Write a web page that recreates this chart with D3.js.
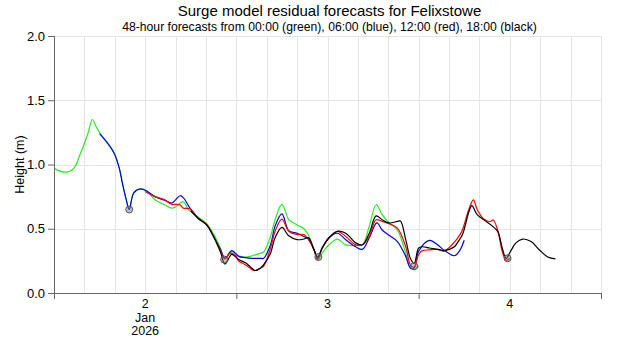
<!DOCTYPE html>
<html>
<head>
<meta charset="utf-8">
<script src="https://cdn.jsdelivr.net/npm/d3@7"></script>
<style>
  html, body { margin: 0; padding: 0; background: #fff; }
  svg { display: block; font-family: "Liberation Sans", Arial, sans-serif; }
</style>
</head>
<body>
<svg id="chart" width="620" height="350"></svg>
<script>
// ---- data: [hours after 2026-01-02 00:00, surge residual (m)] ----
const green = [
  [0,0.97],[1.5,0.94],[2.6,0.97],[3.5,1.09],[4.4,1.23],[5.05,1.35],[5.5,1.30],[6.2,1.23],
  [7.0,1.17],[7.9,1.09],[8.6,0.97],[9.0,0.855],[9.45,0.74],[9.9,0.65],[10.5,0.78],[11.4,0.81],
  [12.3,0.79],[13.3,0.725],[14.6,0.685],[15.5,0.66],[16.0,0.67],[16.6,0.70],[17.05,0.71],[17.7,0.65],
  [19.0,0.59],[20.1,0.54],[21.0,0.46],[21.9,0.35],[22.5,0.27],[23.4,0.32],[24.3,0.29],[25.2,0.28],
  [26.1,0.29],[27.2,0.31],[27.6,0.32],[28.5,0.44],[29.1,0.57],[30.0,0.69],[30.9,0.57],[31.3,0.555],
  [32.0,0.53],[32.9,0.50],[33.5,0.45],[34.2,0.34],[34.7,0.26],[35.3,0.31],[36.2,0.375],[37.3,0.42],
  [38.4,0.375],[39.7,0.37],[40.6,0.375],[41.5,0.52],[42.4,0.687],[43.2,0.61],[44.1,0.545],[45.2,0.49],
  [46.3,0.31],[46.9,0.195],[47.4,0.18],[48.0,0.21]
];
const blue = [
  [6.0,1.24],[7.0,1.17],[7.9,1.09],[8.6,0.97],[9.0,0.855],[9.45,0.74],[9.9,0.65],[10.5,0.78],
  [11.4,0.81],[12.3,0.79],[13.3,0.75],[14.6,0.72],[15.5,0.70],[16.0,0.725],[16.6,0.757],[17.05,0.74],
  [17.9,0.66],[19.0,0.58],[20.1,0.53],[21.0,0.44],[21.9,0.34],[22.5,0.27],[23.4,0.33],[24.3,0.285],
  [25.2,0.275],[26.1,0.27],[27.2,0.27],[27.6,0.27],[28.5,0.375],[29.1,0.52],[30.0,0.615],[30.9,0.485],
  [32.0,0.465],[32.9,0.44],[33.5,0.42],[34.2,0.34],[34.7,0.27],[35.3,0.35],[36.2,0.43],[37.3,0.465],
  [38.4,0.415],[39.7,0.36],[40.6,0.34],[41.5,0.43],[42.5,0.545],[43.2,0.49],[44.1,0.45],[45.2,0.40],
  [46.3,0.285],[46.9,0.195],[47.4,0.195],[48.0,0.325],[49.4,0.41],[50.5,0.375],[51.3,0.335],[52.7,0.29],
  [53.4,0.33],[54.0,0.41]
];
const red = [
  [12.0,0.79],[13.3,0.75],[14.6,0.725],[15.5,0.69],[16.0,0.69],[16.6,0.685],[17.05,0.66],[17.9,0.655],
  [19.0,0.58],[20.1,0.53],[21.0,0.44],[21.9,0.33],[22.5,0.265],[23.2,0.31],[23.9,0.29],[24.3,0.25],
  [25.2,0.22],[26.1,0.18],[26.5,0.175],[27.2,0.195],[27.6,0.21],[28.5,0.35],[29.1,0.48],[30.0,0.575],
  [30.9,0.48],[32.0,0.455],[32.9,0.455],[33.5,0.415],[34.2,0.34],[34.7,0.26],[35.3,0.35],[36.2,0.43],
  [37.3,0.48],[38.4,0.44],[39.7,0.375],[40.6,0.375],[41.5,0.44],[42.4,0.57],[43.2,0.557],[44.1,0.54],
  [45.2,0.505],[46.3,0.36],[46.9,0.22],[47.4,0.20],[48.0,0.30],[48.5,0.33],[49.4,0.335],[50.5,0.34],
  [51.3,0.325],[52.3,0.37],[53.6,0.47],[54.6,0.65],[55.2,0.725],[55.7,0.65],[56.6,0.575],[57.5,0.557],
  [57.8,0.57],[58.4,0.49],[59.0,0.325],[59.5,0.255],[60.0,0.27]
];
const black = [
  [18.0,0.64],[19.0,0.58],[20.1,0.53],[21.0,0.44],[21.9,0.32],[22.5,0.225],[23.4,0.30],[24.3,0.26],
  [25.2,0.235],[26.1,0.19],[26.5,0.175],[27.2,0.195],[27.6,0.22],[28.5,0.31],[29.1,0.43],[30.0,0.51],
  [30.9,0.445],[32.0,0.415],[32.9,0.42],[33.5,0.43],[34.2,0.34],[34.7,0.28],[35.3,0.35],[36.2,0.43],
  [37.3,0.48],[38.4,0.465],[39.7,0.39],[40.6,0.375],[41.5,0.465],[42.4,0.60],[43.2,0.57],[44.1,0.545],
  [45.2,0.557],[45.6,0.56],[46.3,0.415],[46.9,0.27],[47.4,0.23],[48.0,0.35],[48.5,0.36],[49.4,0.35],
  [50.5,0.34],[51.3,0.33],[52.7,0.36],[53.2,0.40],[53.8,0.46],[54.6,0.63],[55.0,0.68],[55.7,0.61],
  [56.6,0.57],[57.5,0.53],[58.4,0.48],[59.0,0.35],[59.5,0.27],[60.1,0.325],[60.8,0.39],[61.7,0.42],
  [62.8,0.40],[63.9,0.335],[65.0,0.28],[66.0,0.265]
];
// low-water markers
const markers = [[9.9,0.65],[22.4,0.26],[34.8,0.28],[47.4,0.21],[59.7,0.27]];

const seriesNames = ["green","blue","red","black"];
const seriesColors = ["#22ee22","#0000dd","#ff0000","#000000"];
const yTicks = [0, 0.5, 1.0, 1.5, 2.0];
const dayLabels = [["2","Jan","2026"],["3"],["4"]];
const title = "Surge model residual forecasts for Felixstowe";
const subtitle = "48-hour forecasts from 00:00 (green), 06:00 (blue), 12:00 (red), 18:00 (black)";
const yLabel = "Height (m)";

// ---- layout ----
const W = 620, H = 350;
const m = {left: 54, right: 19, top: 36, bottom: 57};
const start = new Date(2026, 0, 2, 0, 0);
const end = new Date(2026, 0, 5, 0, 0);
const T = h => new Date(start.getTime() + h * 3600000);

const x = d3.scaleTime().domain([start, end]).range([m.left, W - m.right]);
const y = d3.scaleLinear().domain([0, 2]).range([H - m.bottom, m.top]);

const svg = d3.select("#chart");

// grid
const grid = svg.append("g").attr("stroke", "#e4e4e4").attr("stroke-width", 1);
grid.selectAll("line.v").data(d3.timeHour.every(4).range(start, d3.timeHour.offset(end, 1)))
  .join("line").attr("class", "v")
  .attr("x1", d => Math.round(x(d)) + 0.5).attr("x2", d => Math.round(x(d)) + 0.5)
  .attr("y1", y(2)).attr("y2", y(0));
grid.selectAll("line.h").data(yTicks)
  .join("line").attr("class", "h")
  .attr("x1", m.left).attr("x2", W - m.right)
  .attr("y1", d => Math.round(y(d)) + 0.5).attr("y2", d => Math.round(y(d)) + 0.5);

// lines
const line = d3.line().x(d => x(T(d[0]))).y(d => y(d[1])).curve(d3.curveCatmullRom.alpha(0.5));
[green, blue, red, black].forEach((s, i) => {
  svg.append("path").datum(s)
    .attr("fill", "none")
    .attr("stroke", seriesColors[i])
    .attr("stroke-width", 1.2)
    .attr("d", line);
});

// markers
svg.append("g").selectAll("circle").data(markers).join("circle")
  .attr("cx", d => x(T(d[0]))).attr("cy", d => y(d[1])).attr("r", 3.5)
  .attr("fill", "rgba(120,120,120,0.45)").attr("stroke", "#555").attr("stroke-width", 1);

// y axis
const yAxis = d3.axisLeft(y).tickValues(yTicks).tickFormat(d3.format(".1f")).tickSize(6).tickPadding(3);
const gy = svg.append("g").attr("transform", `translate(${m.left},0)`).call(yAxis);
gy.select(".domain").attr("stroke", "#666");
gy.selectAll(".tick line").attr("stroke", "#666");
gy.selectAll(".tick text").attr("fill", "#000").style("font-size", "13px")
  .style("font-family", '"Liberation Sans", Arial, sans-serif');

// x axis (ticks at midnight, labels at noon)
const midnights = d3.timeDay.range(start, d3.timeDay.offset(end, 1));
const xAxis = d3.axisBottom(x).tickValues(midnights).tickFormat("").tickSize(6);
const gx = svg.append("g").attr("transform", `translate(0,${H - m.bottom})`).call(xAxis);
gx.select(".domain").attr("stroke", "#666");
gx.selectAll(".tick line").attr("stroke", "#666");

const noons = d3.timeDay.range(start, end).map(d => d3.timeHour.offset(d, 12));
const lab = svg.append("g").attr("font-size", 12.5).attr("text-anchor", "middle").attr("fill", "#000");
noons.forEach((d, i) => {
  const t = lab.append("text").attr("x", x(d)).attr("y", H - m.bottom + 15);
  dayLabels[i].forEach((s, j) => {
    t.append("tspan").attr("x", x(d)).attr("dy", j === 0 ? 0 : 13.5).text(s);
  });
});

// titles
const cx = (m.left + W - m.right) / 2 + 2;
svg.append("text").attr("x", cx).attr("y", 16).attr("text-anchor", "middle")
  .attr("font-size", 15).text(title);
svg.append("text").attr("x", cx).attr("y", 31).attr("text-anchor", "middle")
  .attr("font-size", 12.2).text(subtitle);
svg.append("text").attr("transform", `translate(24,${y(1)}) rotate(-90)`)
  .attr("text-anchor", "middle").attr("font-size", 12.5).text(yLabel);
</script>
</body>
</html>
